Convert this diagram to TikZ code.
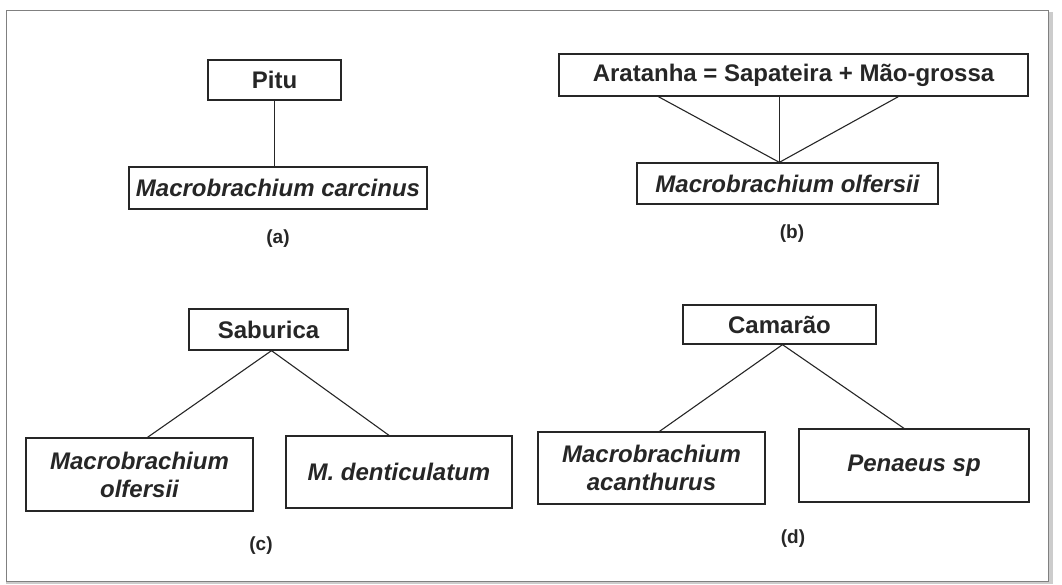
\documentclass[tikz,border=0pt]{standalone}
\usepackage{fontspec}
\setmainfont{Liberation Sans}
\usetikzlibrary{calc}
\begin{document}
\begin{tikzpicture}[x=1pt,y=1pt,
  box/.style={draw=black!85, line width=1.3pt, inner sep=0pt, font=\fontsize{24}{27}\selectfont\bfseries, text=black!85, align=center},
  sp/.style={box, font=\fontsize{24}{28}\selectfont\bfseries\itshape},
  link/.style={draw=black!85, line width=1.1pt},
  sublabel/.style={font=\fontsize{19}{21}\selectfont\bfseries, text=black!85, inner sep=0pt}]
\useasboundingbox (0,0) rectangle (1062,-584);
% frame
\fill[black!20] (1048,-12) rectangle (1053,-584);
\fill[black!20] (6,-581) rectangle (1053,-584);
\draw[black!50, line width=0.8pt] (6,-10) rectangle (1048,-581);
% (a)
\node[box, minimum width=133pt, minimum height=40pt] (pitu) at (274.5,-80) {Pitu};
\node[sp, minimum width=298pt, minimum height=42pt] (carc) at (278,-188) {Macrobrachium carcinus};
\draw[link] (pitu.south) -- (pitu.south |- carc.north);
\node[sublabel] (la) at (278,-239) {(a)};
% (b)
\node[box, minimum width=469pt, minimum height=42pt] (arat) at (793.5,-75) {Aratanha = Sapateira + Mão-grossa};
\node[sp, minimum width=301pt, minimum height=41pt] (olf) at (787.5,-183.5) {Macrobrachium olfersii};
\coordinate (meet) at ($(olf.north west)+(143pt,0)$);
\draw[link] ($(arat.south west)+(100pt,0)$) -- (meet);
\draw[link] ($(arat.south west)+(221pt,0)$) -- (meet);
\draw[link] ($(arat.south west)+(340pt,0)$) -- (meet);
\node[sublabel] (lb) at (792,-234) {(b)};
% (c)
\node[box, minimum width=159pt, minimum height=41pt] (sab) at (268.5,-329.5) {Saburica};
\node[sp, minimum width=227pt, minimum height=73pt] (olf2) at (139.5,-474.5) {Macrobrachium\\olfersii};
\node[sp, minimum width=226pt, minimum height=72pt] (dent) at (399,-472) {M. denticulatum};
\draw[link] ($(sab.south)+(3pt,0)$) -- ($(olf2.north)+(8pt,0)$);
\draw[link] ($(sab.south)+(3pt,0)$) -- ($(dent.north)+(-10pt,0)$);
\node[sublabel] (lc) at (261,-546) {(c)};
% (d)
\node[box, minimum width=193pt, minimum height=39pt] (cam) at (779.5,-324.5) {Camarão};
\node[sp, minimum width=227pt, minimum height=72pt] (acan) at (651.5,-468) {Macrobrachium\\acanthurus};
\node[sp, minimum width=230pt, minimum height=73pt] (pen) at (914,-465.5) {Penaeus sp};
\draw[link] ($(cam.south)+(3pt,0)$) -- ($(acan.north)+(8pt,0)$);
\draw[link] ($(cam.south)+(3pt,0)$) -- ($(pen.north)+(-10pt,0)$);
\node[sublabel] (ld) at (793,-539) {(d)};
\end{tikzpicture}
\end{document}
